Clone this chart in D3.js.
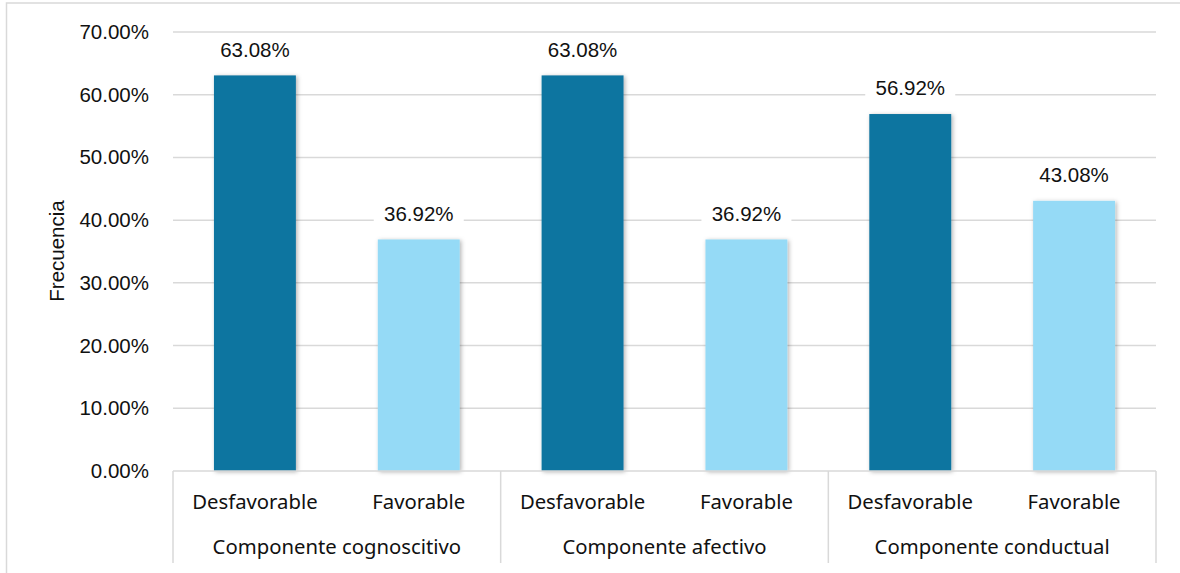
<!DOCTYPE html>
<html>
<head>
<meta charset="utf-8">
<script src="https://cdn.jsdelivr.net/npm/d3@7"></script>
<style>
  html, body { margin: 0; padding: 0; background: #fff; }
  svg { display: block; }
</style>
</head>
<body>
<div id="chart"></div>
<script>
// datos
var groups = ["Componente cognoscitivo", "Componente afectivo", "Componente conductual"];
var levels = ["Desfavorable", "Favorable"];
var desfavorable = [63.08, 63.08, 56.92];
var favorable = [36.92, 36.92, 43.08];
var yTicks = [0, 10, 20, 30, 40, 50, 60, 70];
var yTitle = "Frecuencia";

var colors = { "Desfavorable": "#0E75A0", "Favorable": "#95DAF6" };

// lienzo
var width = 1180, height = 573;
var plotLeft = 173, plotRight = 1156, plotTop = 32, plotBottom = 471;

var svg = d3.select("#chart")
  .append("svg")
  .attr("width", width)
  .attr("height", height);

var defs = svg.append("defs");
var shadow = defs.append("filter")
  .attr("id", "shadow")
  .attr("x", "-20%").attr("y", "-20%")
  .attr("width", "140%").attr("height", "140%");
shadow.append("feDropShadow")
  .attr("dx", 1.5).attr("dy", 1)
  .attr("stdDeviation", 2)
  .attr("flood-color", "#000")
  .attr("flood-opacity", 0.3);

// marco
svg.append("rect")
  .attr("x", 6.5).attr("y", 3)
  .attr("width", 1200).attr("height", 600)
  .attr("fill", "none")
  .attr("stroke", "#d9d9d9")
  .attr("stroke-width", 1.5);

// escalas
var y = d3.scaleLinear().domain([0, 70]).range([plotBottom, plotTop]);
var x0 = d3.scaleBand().domain(groups).range([plotLeft, plotRight]).padding(0);
var x1 = d3.scaleBand().domain(levels).range([0, x0.bandwidth()])
  .paddingInner(0.5).paddingOuter(0.25);

// rejilla
var gGrid = svg.append("g");
gGrid.selectAll("line")
  .data(yTicks.filter(function(t) { return t > 0; }))
  .enter()
  .append("line")
  .attr("x1", plotLeft).attr("x2", plotRight)
  .attr("y1", function(d) { return y(d); })
  .attr("y2", function(d) { return y(d); })
  .attr("stroke", "#d9d9d9")
  .attr("stroke-width", 1.5);

// eje y
var yAxis = d3.axisLeft(y)
  .tickValues(yTicks)
  .tickSize(0)
  .tickPadding(24)
  .tickFormat(function(d) { return d.toFixed(2) + "%"; });
var gY = svg.append("g")
  .attr("transform", "translate(" + plotLeft + ",0)")
  .call(yAxis);
gY.select(".domain").remove();
gY.selectAll("text")
  .attr("font-family", "Liberation Sans, Arial, sans-serif")
  .attr("font-size", "20.5px")
  .attr("fill", "#111");

svg.append("text")
  .attr("transform", "translate(64,251) rotate(-90)")
  .attr("text-anchor", "middle")
  .attr("font-family", "Liberation Sans, Arial, sans-serif")
  .attr("font-size", "20.5px")
  .attr("fill", "#111")
  .text(yTitle);

// filas
var rows = [];
for (var i = 0; i < groups.length; i++) {
  rows.push({ group: groups[i], level: "Desfavorable", value: desfavorable[i] });
  rows.push({ group: groups[i], level: "Favorable", value: favorable[i] });
}

// barras
var gBar = svg.append("g");
gBar.selectAll("rect")
  .data(rows)
  .enter()
  .append("rect")
  .attr("x", function(d) { return x0(d.group) + x1(d.level); })
  .attr("y", function(d) { return y(d.value); })
  .attr("width", x1.bandwidth())
  .attr("height", function(d) { return y(0) - y(d.value); })
  .attr("fill", function(d) { return colors[d.level]; })
  .attr("filter", "url(#shadow)");

// etiquetas de datos
var gLabel = svg.append("g");
var lab = gLabel.selectAll("g")
  .data(rows)
  .enter()
  .append("g")
  .attr("transform", function(d) {
    return "translate(" + (x0(d.group) + x1(d.level) + x1.bandwidth() / 2) + "," + (y(d.value) - 26) + ")";
  });
lab.append("rect")
  .attr("x", -45).attr("y", -13)
  .attr("width", 90).attr("height", 26)
  .attr("fill", "#fff");
lab.append("text")
  .attr("text-anchor", "middle")
  .attr("dy", "0.36em")
  .attr("font-family", "Liberation Sans, Arial, sans-serif")
  .attr("font-size", "20.5px")
  .attr("fill", "#111")
  .text(function(d) { return d.value.toFixed(2) + "%"; });

// eje x (dos niveles)
var gX = svg.append("g");
gX.append("line")
  .attr("x1", plotLeft).attr("x2", plotRight)
  .attr("y1", y(0)).attr("y2", y(0))
  .attr("stroke", "#d9d9d9")
  .attr("stroke-width", 1.5);

var seps = groups.map(function(g) { return x0(g); }).concat([plotRight]);
gX.selectAll("line.sep")
  .data(seps)
  .enter()
  .append("line")
  .attr("class", "sep")
  .attr("x1", function(d) { return d; })
  .attr("x2", function(d) { return d; })
  .attr("y1", y(0)).attr("y2", 563)
  .attr("stroke", "#d9d9d9")
  .attr("stroke-width", 1.5);

gX.selectAll("text.level")
  .data(rows)
  .enter()
  .append("text")
  .attr("class", "level")
  .attr("x", function(d) { return x0(d.group) + x1(d.level) + x1.bandwidth() / 2; })
  .attr("y", 502)
  .attr("dy", "0.36em")
  .attr("text-anchor", "middle")
  .attr("font-family", "Noto Sans, sans-serif")
  .attr("font-size", "20.3px")
  .attr("fill", "#111")
  .text(function(d) { return d.level; });

gX.selectAll("text.group")
  .data(groups)
  .enter()
  .append("text")
  .attr("class", "group")
  .attr("x", function(d) { return x0(d) + x0.bandwidth() / 2; })
  .attr("y", 547)
  .attr("dy", "0.36em")
  .attr("text-anchor", "middle")
  .attr("font-family", "Noto Sans, sans-serif")
  .attr("font-size", "20.3px")
  .attr("fill", "#111")
  .text(function(d) { return d; });
</script>
</body>
</html>
